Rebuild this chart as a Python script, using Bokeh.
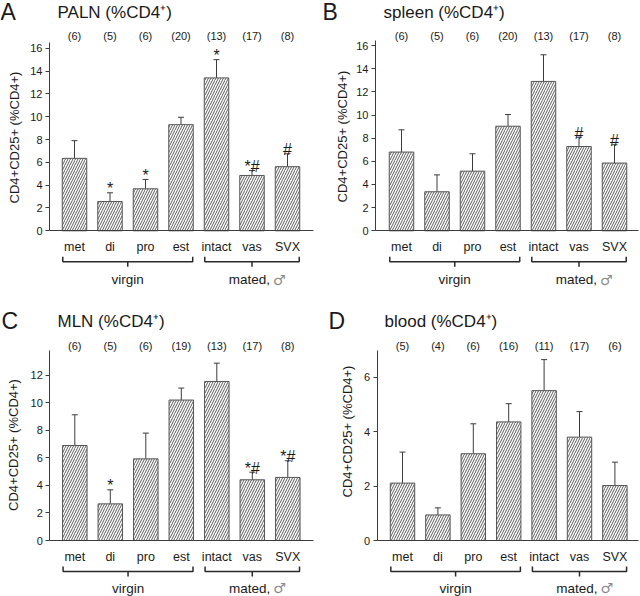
import numpy as np
from bokeh.plotting import figure
from bokeh.models import (ColumnDataSource, Range1d, LinearAxis, FixedTicker,
                          Whisker, TeeHead)
from bokeh.layouts import gridplot
from bokeh.embed import file_html
from bokeh.resources import INLINE
from bokeh.core.properties import value

# ---------------- data ----------------
categories = ["met", "di", "pro", "est", "intact", "vas", "SVX"]
groups = ["virgin", "mated, \u2642"]
group_spans = [(1, 4), (5, 7)]
y_title = "CD4+CD25+ (%CD4+)"

paln_mean = [6.35, 2.57, 3.68, 9.30, 13.40, 4.85, 5.62]
paln_err = [1.55, 0.76, 0.82, 0.65, 1.60, 0.43, 1.13]
paln_n = [6, 5, 6, 20, 13, 17, 8]
paln_sig = ["", "*", "*", "", "*", "*#", "#"]

spleen_mean = [6.80, 3.37, 5.15, 9.03, 12.90, 7.28, 5.85]
spleen_err = [1.92, 1.46, 1.50, 1.01, 2.30, 0.80, 1.58]
spleen_n = [6, 5, 6, 20, 13, 17, 8]
spleen_sig = ["", "", "", "", "", "#", "#"]

mln_mean = [6.90, 2.66, 5.93, 10.20, 11.55, 4.41, 4.58]
mln_err = [2.23, 1.02, 1.87, 0.87, 1.33, 0.55, 1.21]
mln_n = [6, 5, 6, 19, 13, 17, 8]
mln_sig = ["", "*", "", "", "", "*#", "*#"]

blood_mean = [2.11, 0.94, 3.19, 4.36, 5.51, 3.80, 2.02]
blood_err = [1.14, 0.26, 1.10, 0.67, 1.14, 0.94, 0.86]
blood_n = [5, 4, 6, 16, 11, 17, 6]
blood_sig = ["", "", "", "", "", "", ""]

# ---------------- style ----------------
FONT = "Liberation Sans"
TXT = "#1a1a1a"
AXC = "#3c3c3c"
BARC = "#555555"
W, H = 320, 298
SYM = "\u2642"


def panel(letter, title, means, errs, ns, sigs, ymax, yticks, g):
    X = lambda px: 1 + (px - g["c1"]) / g["sp"]
    Y = lambda py: (g["y0"] - py) / g["ppu"]
    y0 = g["y0"]
    p = figure(width=W, height=H, x_range=Range1d(X(0), X(W)),
               y_range=Range1d(Y(H), Y(0)), x_axis_type=None, y_axis_type=None,
               min_border=0, toolbar_location=None, output_backend="svg",
               outline_line_color=None, background_fill_color="white",
               border_fill_color="white")

    xs = list(range(1, len(categories) + 1))
    src = ColumnDataSource(dict(
        x=xs, mean=means, upper=[m + e for m, e in zip(means, errs)],
        sig=sigs, nlab=["(%d)" % n for n in ns],
        ny=[Y(y0 - 195)] * len(xs)))

    p.vbar(x="x", top="mean", bottom=0, width=0.69, source=src,
           fill_color="white", line_color=BARC, line_width=1,
           hatch_pattern="/", hatch_color="#4a4a4a", hatch_scale=5,
           hatch_weight=0.9)

    wh = Whisker(source=src, base="x", lower="mean", upper="upper",
                 dimension="height", line_color=AXC, line_width=1,
                 upper_head=TeeHead(size=6, line_color=AXC, line_width=1),
                 lower_head=None)
    p.add_layout(wh)

    p.text(x="x", y="upper", text="sig", source=src, y_offset=-4,
           text_align="center", text_baseline="alphabetic",
           text_font=value(FONT), text_font_size="16px", text_color=TXT)

    p.text(x="x", y="ny", text="nlab", source=src, text_align="center",
           text_baseline="middle", text_font=value(FONT),
           text_font_size="11px", text_color=TXT)

    # axes
    yax = LinearAxis(fixed_location=X(g["ax"]), bounds=(0, ymax),
                     ticker=FixedTicker(ticks=yticks, minor_ticks=[]),
                     major_tick_out=4, major_tick_in=0, minor_tick_out=0,
                     minor_tick_in=0, major_label_standoff=3,
                     axis_line_color=AXC, major_tick_line_color=AXC,
                     major_label_text_font=FONT,
                     major_label_text_font_size="11px",
                     major_label_text_color=TXT)
    p.add_layout(yax, "left")

    xax = LinearAxis(fixed_location=0, bounds=(X(g["ax"]), X(g["xend"])),
                     ticker=FixedTicker(ticks=xs, minor_ticks=[]),
                     major_label_overrides={i: c for i, c in zip(xs, categories)},
                     major_tick_out=0, major_tick_in=0, minor_tick_out=0,
                     minor_tick_in=0, major_label_standoff=9,
                     axis_line_color=AXC, major_label_text_font=FONT,
                     major_label_text_font_size="12.5px",
                     major_label_text_color=TXT)
    p.add_layout(xax, "below")

    # group brackets and labels
    bx, by = [], []
    gy = Y(min(y0 + 49, 289.5))
    for (a, b), lab in zip(group_spans, groups):
        xl, xr = a - 0.33, b + 0.33
        xc = (xl + xr) / 2
        bx.append([xl, xl, xr, xr])
        by.append([Y(y0 + 26), Y(y0 + 31), Y(y0 + 31), Y(y0 + 26)])
        bx.append([xc, xc])
        by.append([Y(y0 + 31), Y(y0 + 36)])
        if SYM in lab:
            main = lab.replace(SYM, "").rstrip()
            p.text(x=[xc], y=[gy], text=[main], x_offset=18,
                   text_align="right", text_baseline="middle",
                   text_font=value(FONT), text_font_size="13.5px",
                   text_color=TXT)
            p.text(x=[xc], y=[gy], text=[SYM], x_offset=21,
                   text_align="left", text_baseline="middle",
                   text_font=value("DejaVu Sans"), text_font_size="14px",
                   text_color="#8a8a8a")
        else:
            p.text(x=[xc], y=[gy], text=[lab], text_align="center",
                   text_baseline="middle", text_font=value(FONT),
                   text_font_size="13.5px", text_color=TXT)
    p.multi_line(xs=bx, ys=by, line_color="#2a2a2a", line_width=1.5)

    # y title
    p.text(x=[X(g["ytx"])], y=[Y(g["yty"])], text=[y_title], angle=np.pi / 2,
           text_align="center", text_baseline="middle", text_font=value(FONT),
           text_font_size="13px", text_color=TXT)
    # letter and title
    p.text(x=[X(g["lx"])], y=[Y(max(y0 - 220, 11.5))], text=[letter],
           text_align="left", text_baseline="middle", text_font=value(FONT),
           text_font_size="23px", text_color=TXT)
    p.text(x=[X(g["tx"])], y=[Y(y0 - 218.6)], text=[title], text_align="left",
           text_baseline="middle", text_font=value(FONT),
           text_font_size="17px", text_color=TXT)
    return p


gA = dict(ax=49, c1=74, sp=35.5, xend=313, y0=230.3, ppu=11.41, ytx=14, yty=137, lx=0, tx=57)
gB = dict(ax=55, c1=81, sp=35.5, xend=318, y0=230.3, ppu=11.58, ytx=22, yty=136, lx=2, tx=63)
gC = dict(ax=49.3, c1=74.3, sp=35.5, xend=313, y0=242, ppu=13.77, ytx=13, yty=146.5, lx=1, tx=57)
gD = dict(ax=56.7, c1=82, sp=35.4, xend=318, y0=242, ppu=27.2, ytx=27, yty=133, lx=8, tx=64)

ticks16 = [0, 2, 4, 6, 8, 10, 12, 14, 16]
pA = panel("A", "PALN (%CD4\u207a)", paln_mean, paln_err, paln_n, paln_sig, 16.5, ticks16, gA)
pB = panel("B", "spleen (%CD4\u207a)", spleen_mean, spleen_err, spleen_n, spleen_sig, 16.4, ticks16, gB)
pC = panel("C", "MLN (%CD4\u207a)", mln_mean, mln_err, mln_n, mln_sig, 13.8, [0, 2, 4, 6, 8, 10, 12], gC)
pD = panel("D", "blood (%CD4\u207a)", blood_mean, blood_err, blood_n, blood_sig, 7.0, [0, 2, 4, 6], gD)

grid = gridplot([[pA, pB], [pC, pD]], toolbar_location=None)

open("out.html", "w").write(file_html(grid, INLINE))
